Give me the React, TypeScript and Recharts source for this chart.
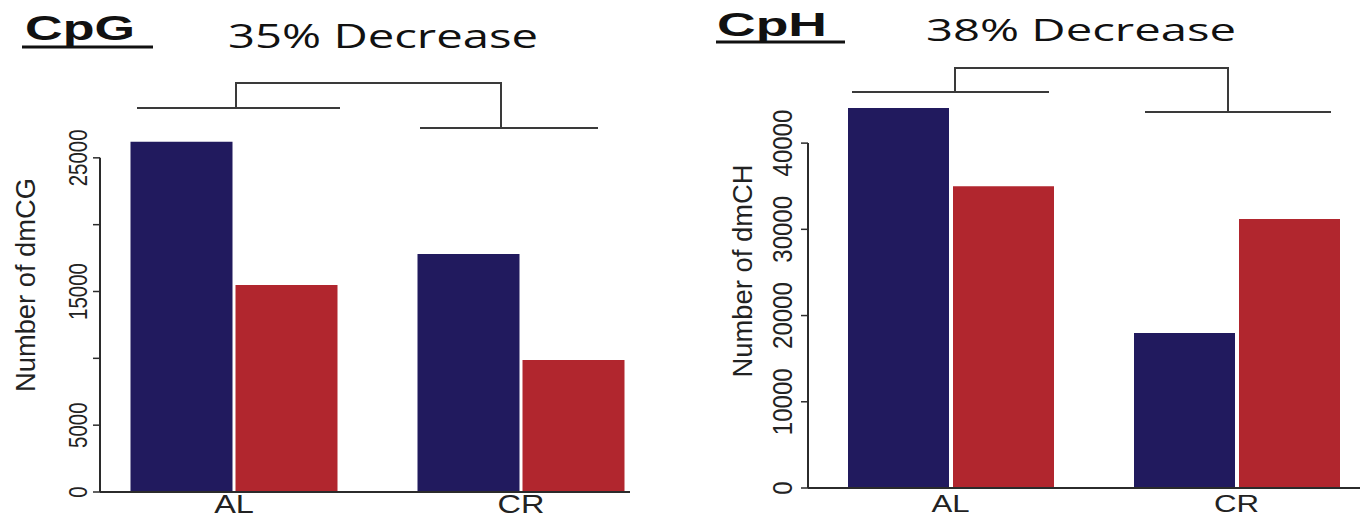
import React from "react";
import { BarChart, Bar, XAxis, YAxis } from "recharts";

// two groups, two bars per group (blue then red)
const groups = ["AL", "CR"];
const cpgBlue = [26200, 17810];
const cpgRed = [15490, 9880];
const cphBlue = [44060, 17970];
const cphRed = [35010, 31190];

const cpgTicks = [0, 5000, 10000, 15000, 20000, 25000];
const cpgTickLabels = [0, 5000, 15000, 25000];
const cphTicks = [0, 10000, 20000, 30000, 40000];
const cphTickLabels = [0, 10000, 20000, 30000, 40000];

const BLUE = "#211A5E";
const RED = "#B1262E";
const INK = "#2b2b2b";
const SANS = "'Liberation Sans', Arial, sans-serif";

const cpgData = groups.map((g, i) => ({ group: g, blue: cpgBlue[i], red: cpgRed[i] }));
const cphData = groups.map((g, i) => ({ group: g, blue: cphBlue[i], red: cphRed[i] }));

// rotated y tick labels, R style (las=0)
const yTick = (fontSize: number, sx: number, labelled: number[]) => (props: any) => {
  const { x, y, payload } = props;
  if (!labelled.includes(payload.value)) return <g />;
  return (
    <text
      transform={`translate(${x},${y}) scale(${sx},1) rotate(-90)`}
      textAnchor="middle"
      fontSize={fontSize}
      fontFamily={SANS}
      fill="#222"
    >
      {payload.value}
    </text>
  );
};

const xTick = (fontSize: number, sx: number) => (props: any) => {
  const { x, y, payload } = props;
  return (
    <text
      transform={`translate(${x},${y}) scale(${sx},1)`}
      textAnchor="middle"
      fontSize={fontSize}
      fontFamily={SANS}
      fill="#222"
    >
      {payload.value}
    </text>
  );
};

function Panel(props: {
  data: any[];
  width: number;
  height: number;
  margin: any;
  yWidth: number;
  xHeight: number;
  yMax: number;
  ticks: number[];
  tickLabels: number[];
  axisTop: number;
  padding: { left: number; right: number };
  catGap: number;
  barGap: number;
  yFont: number;
  ySx: number;
  yTickMargin: number;
  xFont: number;
  xSx: number;
  xTickMargin: number;
}) {
  const p = props;
  const plotH = p.height - p.margin.top - p.xHeight;
  // R draws the axis only over the tick range
  const gap = plotH * (1 - p.axisTop / p.yMax);
  return (
    <BarChart
      width={p.width}
      height={p.height}
      data={p.data}
      margin={p.margin}
      barCategoryGap={p.catGap}
      barGap={p.barGap}
    >
      <XAxis
        dataKey="group"
        height={p.xHeight}
        padding={p.padding}
        tickLine={false}
        tickSize={0}
        tickMargin={p.xTickMargin}
        axisLine={{ stroke: INK, strokeWidth: 2 }}
        tick={xTick(p.xFont, p.xSx)}
        interval={0}
      />
      <YAxis
        width={p.yWidth}
        domain={[0, p.yMax]}
        ticks={p.ticks}
        interval={0}
        tickSize={7}
        tickMargin={p.yTickMargin}
        tickLine={{ stroke: INK, strokeWidth: 1.5 }}
        axisLine={{ stroke: INK, strokeWidth: 2, strokeDasharray: `0 ${gap} ${plotH}` }}
        tick={yTick(p.yFont, p.ySx, p.tickLabels)}
      />
      <Bar dataKey="blue" fill={BLUE} isAnimationActive={false} />
      <Bar dataKey="red" fill={RED} isAnimationActive={false} />
    </BarChart>
  );
}

export default function App() {
  return (
    <div
      style={{
        position: "absolute",
        left: 0,
        top: 0,
        width: 1360,
        height: 519,
        overflow: "hidden",
        background: "#fff",
      }}
    >
      <div style={{ position: "absolute", left: 0, top: 0 }}>
        <Panel
          data={cpgData}
          width={680}
          height={519}
          margin={{ top: 91, right: 50, bottom: 0, left: 0 }}
          yWidth={100}
          xHeight={27}
          yMax={30000}
          ticks={cpgTicks}
          tickLabels={cpgTickLabels}
          axisTop={25000}
          padding={{ left: -9.5, right: -34.5 }}
          catGap={40}
          barGap={3}
          yFont={20.5}
          ySx={1.3}
          yTickMargin={6}
          xFont={25}
          xSx={1.3}
          xTickMargin={21}
        />
      </div>
      <div style={{ position: "absolute", left: 680, top: 0 }}>
        <Panel
          data={cphData}
          width={680}
          height={519}
          margin={{ top: 100, right: 0, bottom: 0, left: 0 }}
          yWidth={128}
          xHeight={31}
          yMax={45000}
          ticks={cphTicks}
          tickLabels={cphTickLabels}
          axisTop={40000}
          padding={{ left: -0.5, right: -19.5 }}
          catGap={40.5}
          barGap={4}
          yFont={24}
          ySx={1.16}
          yTickMargin={9}
          xFont={24}
          xSx={1.3}
          xTickMargin={24}
        />
      </div>
      <svg
        width={1360}
        height={519}
        style={{ position: "absolute", left: 0, top: 0, pointerEvents: "none" }}
      >
        {/* titles */}
        <text x={25} y={40} fontFamily={SANS} fontWeight="bold" fontSize={35} textLength={110} lengthAdjust="spacingAndGlyphs" fill="#111">
          CpG
        </text>
        <line x1={22} y1={47} x2={153} y2={47} stroke="#111" strokeWidth={3} />
        <text x={228} y={48} fontFamily="'Open Sans', sans-serif" fontSize={33} textLength={310} lengthAdjust="spacingAndGlyphs" fill="#111">
          35% Decrease
        </text>
        <text x={717} y={36} fontFamily={SANS} fontWeight="bold" fontSize={33} textLength={110} lengthAdjust="spacingAndGlyphs" fill="#111">
          CpH
        </text>
        <line x1={716} y1={42} x2={845} y2={42} stroke="#111" strokeWidth={3} />
        <text x={926} y={41} fontFamily="'Open Sans', sans-serif" fontSize={31} textLength={310} lengthAdjust="spacingAndGlyphs" fill="#111">
          38% Decrease
        </text>

        {/* y axis titles */}
        <text transform="translate(35,285) scale(1.3,1) rotate(-90)" textAnchor="middle" fontFamily={SANS} fontSize={21.5} textLength={214} lengthAdjust="spacingAndGlyphs" fill="#222">
          Number of  dmCG
        </text>
        <text transform="translate(752,271) scale(1.25,1) rotate(-90)" textAnchor="middle" fontFamily={SANS} fontSize={22} textLength={213} lengthAdjust="spacingAndGlyphs" fill="#222">
          Number of  dmCH
        </text>

        {/* clustering brackets */}
        <g stroke="#3a3a3a" strokeWidth={2} fill="none">
          <line x1={137} y1={108} x2={340} y2={108} />
          <polyline points="236,108 236,83 501,83 501,128" />
          <line x1={420} y1={128} x2={598} y2={128} />
          <line x1={852} y1={92} x2={1049} y2={92} />
          <polyline points="955,92 955,68 1228,68 1228,112" />
          <line x1={1145} y1={112} x2={1331} y2={112} />
        </g>
      </svg>
    </div>
  );
}
